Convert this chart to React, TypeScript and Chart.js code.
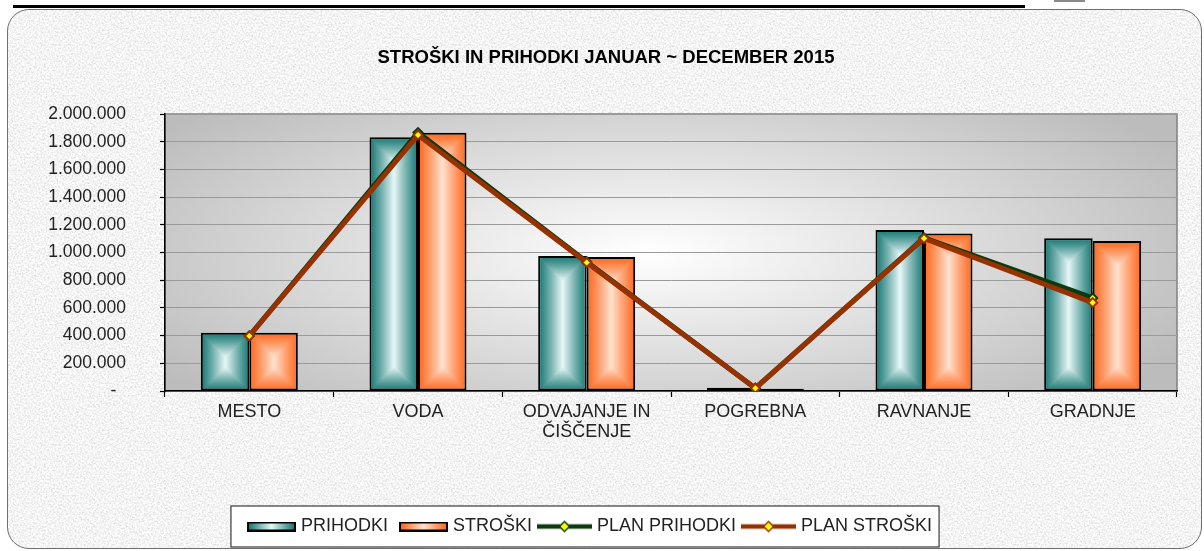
import React, { useEffect, useRef } from 'react';
import { Chart, registerables } from 'chart.js';

Chart.register(...registerables);

// ---------- data ----------
const CATEGORIES: (string | string[])[] = ['MESTO', 'VODA', ['ODVAJANJE IN', 'ČIŠČENJE'], 'POGREBNA', 'RAVNANJE', 'GRADNJE'];
const PRIHODKI = [421000, 1832000, 975000, 24000, 1162000, 1102000];
const STROSKI = [421000, 1865000, 967000, 17000, 1138000, 1083000];
const PLAN_PRIHODKI = [398000, 1866000, 934000, 20000, 1106000, 672000];
const PLAN_STROSKI = [397000, 1848000, 928000, 20000, 1102000, 638000];
const SERIES_NAMES = ['PRIHODKI', 'STROŠKI', 'PLAN PRIHODKI', 'PLAN STROŠKI'];
const TITLE = 'STROŠKI IN PRIHODKI JANUAR ~ DECEMBER 2015';
const Y_MIN = 0;
const Y_MAX = 2000000;
const Y_STEP = 200000;

// ---------- style ----------
const FONT = "'Liberation Sans', Arial, Helvetica, sans-serif";
const CAT_PCT = 0.575;
const TEAL_DARK = [24, 120, 116];
const TEAL_LIGHT = [232, 247, 247];
const ORANGE_DARK = [255, 104, 30];
const ORANGE_LIGHT = [255, 226, 208];
const GREEN_LINE = '#0c3a10';
const BROWN_LINE = '#983100';
const MARKER_FILL = '#ffff00';
const LEGEND_IMG_W = 55;

const GRANITE =
  "url(\"data:image/svg+xml;utf8,<svg xmlns='http://www.w3.org/2000/svg' width='400' height='400'><filter id='n'><feTurbulence type='fractalNoise' baseFrequency='0.55' numOctaves='3' seed='7'/><feColorMatrix type='matrix' values='0.55 0 0 0 0.63  0.55 0 0 0 0.63  0.55 0 0 0 0.63  0 0 0 0 1'/></filter><rect width='400' height='400' filter='url(%23n)'/></svg>\")";

const fmtTick = (v: number) =>
  v === 0 ? '-  ' : String(Math.round(v)).replace(/\B(?=(\d{3})+(?!\d))/g, '.');

function boxGradient(w: number, h: number, dark: number[], light: number[]): HTMLCanvasElement {
  const W = Math.max(1, Math.ceil(w));
  const H = Math.max(1, Math.ceil(h));
  const c = document.createElement('canvas');
  c.width = W;
  c.height = H;
  const g = c.getContext('2d')!;
  const img = g.createImageData(W, H);
  const half = W / 2;
  for (let y = 0; y < H; y++) {
    for (let x = 0; x < W; x++) {
      const d = Math.min(x + 0.5, W - x - 0.5, y + 0.5, H - y - 0.5) / half;
      const k = Math.pow(Math.min(1, Math.max(0, d)), 1.15);
      const p = (y * W + x) * 4;
      img.data[p] = dark[0] + (light[0] - dark[0]) * k;
      img.data[p + 1] = dark[1] + (light[1] - dark[1]) * k;
      img.data[p + 2] = dark[2] + (light[2] - dark[2]) * k;
      img.data[p + 3] = 255;
    }
  }
  g.putImageData(img, 0, 0);
  return c;
}

function makeBarFill(dark: number[], light: number[], fallback: string) {
  return (ctx: any) => {
    const chart = ctx.chart;
    const area = chart.chartArea;
    if (!area || ctx.type !== 'data' || !chart.scales.x || !chart.scales.y) return fallback;
    const xs = chart.scales.x;
    const ys = chart.scales.y;
    const i = ctx.dataIndex;
    const cw = (area.right - area.left) / CATEGORIES.length;
    const size = (cw * CAT_PCT) / 2;
    const cx = xs.getPixelForValue(i);
    const x0 = ctx.datasetIndex === 0 ? cx - size : cx;
    const top = ys.getPixelForValue(ctx.raw);
    const base = ys.getPixelForValue(0);
    const cnv = boxGradient(size, Math.max(1, base - top), dark, light);
    const pat = chart.ctx.createPattern(cnv, 'no-repeat');
    if (!pat) return fallback;
    pat.setTransform(new DOMMatrix().translateSelf(x0, top));
    return pat;
  };
}

function legendBarImage(dark: number[], light: number[]): HTMLCanvasElement {
  const c = document.createElement('canvas');
  c.width = LEGEND_IMG_W;
  c.height = 10;
  const g = c.getContext('2d')!;
  const x0 = LEGEND_IMG_W - 49;
  g.fillStyle = '#000';
  g.fillRect(x0, 0, 49, 10);
  const lg = g.createLinearGradient(x0 + 2, 0, x0 + 47, 0);
  const d = `rgb(${dark.join(',')})`;
  const l = `rgb(${light.join(',')})`;
  lg.addColorStop(0, d);
  lg.addColorStop(0.5, l);
  lg.addColorStop(1, d);
  g.fillStyle = lg;
  g.fillRect(x0 + 2, 2, 45, 6);
  return c;
}

function legendLineImage(color: string): HTMLCanvasElement {
  const c = document.createElement('canvas');
  c.width = LEGEND_IMG_W;
  c.height = 14;
  const g = c.getContext('2d')!;
  const mid = LEGEND_IMG_W / 2;
  g.strokeStyle = color;
  g.lineWidth = 4.5;
  g.beginPath();
  g.moveTo(0, 7);
  g.lineTo(LEGEND_IMG_W, 7);
  g.stroke();
  g.beginPath();
  g.moveTo(mid, 2);
  g.lineTo(mid + 5, 7);
  g.lineTo(mid, 12);
  g.lineTo(mid - 5, 7);
  g.closePath();
  g.fillStyle = MARKER_FILL;
  g.fill();
  g.lineWidth = 1.5;
  g.stroke();
  return c;
}

const backdropPlugin = {
  id: 'backdrop',
  beforeDraw(chart: any) {
    const { ctx, chartArea: a } = chart;
    if (!a) return;
    const w = a.right - a.left;
    const h = a.bottom - a.top;
    ctx.save();
    ctx.beginPath();
    ctx.rect(a.left, a.top, w, h);
    ctx.clip();
    ctx.translate(a.left + w * 0.48, a.top + h * 0.5);
    const rx = w * 0.6;
    const ry = h * 0.75;
    ctx.scale(1, ry / rx);
    const g = ctx.createRadialGradient(0, 0, 0, 0, 0, rx);
    g.addColorStop(0, '#ffffff');
    g.addColorStop(1, '#bcbcbc');
    ctx.fillStyle = g;
    ctx.fillRect(-rx * 2, -rx * 2, rx * 4, rx * 4);
    ctx.restore();

    ctx.save();
    ctx.strokeStyle = '#808080';
    ctx.lineWidth = 1.5;
    ctx.strokeRect(a.left, a.top, w, h);
    ctx.restore();

    const legend = chart.legend;
    if (legend && legend.legendHitBoxes && legend.legendHitBoxes.length) {
      const hb = legend.legendHitBoxes;
      const last = hb[hb.length - 1];
      const left = hb[0].left - 14;
      const right = last.left + last.width + 7;
      const cy = hb[0].top + 9;
      ctx.save();
      ctx.fillStyle = '#ffffff';
      ctx.fillRect(left, cy - 20.5, right - left, 41);
      ctx.strokeStyle = '#3a3a3a';
      ctx.lineWidth = 1.2;
      ctx.strokeRect(left, cy - 20.5, right - left, 41);
      ctx.restore();
    }
  },
  afterDraw(chart: any) {
    const { ctx } = chart;
    ctx.save();
    ctx.font = `bold 18.5px ${FONT}`;
    ctx.fillStyle = '#000';
    ctx.textAlign = 'center';
    ctx.textBaseline = 'middle';
    ctx.fillText(TITLE, 606, 58);
    ctx.restore();
  },
};

export default function App() {
  const canvasRef = useRef<HTMLCanvasElement | null>(null);

  useEffect(() => {
    document.body.style.margin = '0';
    const canvas = canvasRef.current;
    if (!canvas) return;

    const legendImages = [
      legendBarImage(TEAL_DARK, TEAL_LIGHT),
      legendBarImage(ORANGE_DARK, ORANGE_LIGHT),
      legendLineImage(GREEN_LINE),
      legendLineImage(BROWN_LINE),
    ];

    const chart = new Chart(canvas, {
      type: 'bar',
      data: {
        labels: CATEGORIES as any,
        datasets: [
          {
            type: 'bar',
            label: SERIES_NAMES[0],
            data: PRIHODKI,
            backgroundColor: makeBarFill(TEAL_DARK, TEAL_LIGHT, 'rgb(24,120,116)') as any,
            borderColor: '#000',
            borderWidth: 2,
            borderSkipped: false,
            categoryPercentage: CAT_PCT,
            barPercentage: 1,
            order: 2,
          },
          {
            type: 'bar',
            label: SERIES_NAMES[1],
            data: STROSKI,
            backgroundColor: makeBarFill(ORANGE_DARK, ORANGE_LIGHT, 'rgb(255,104,30)') as any,
            borderColor: '#000',
            borderWidth: 2,
            borderSkipped: false,
            categoryPercentage: CAT_PCT,
            barPercentage: 1,
            order: 2,
          },
          {
            type: 'line',
            label: SERIES_NAMES[2],
            data: PLAN_PRIHODKI,
            borderColor: GREEN_LINE,
            borderWidth: 5,
            tension: 0,
            pointStyle: 'rectRot',
            pointRadius: 4.5,
            pointBackgroundColor: MARKER_FILL,
            pointBorderColor: GREEN_LINE,
            pointBorderWidth: 2,
            order: 1,
          },
          {
            type: 'line',
            label: SERIES_NAMES[3],
            data: PLAN_STROSKI,
            borderColor: BROWN_LINE,
            borderWidth: 5,
            tension: 0,
            pointStyle: 'rectRot',
            pointRadius: 4.5,
            pointBackgroundColor: MARKER_FILL,
            pointBorderColor: BROWN_LINE,
            pointBorderWidth: 2,
            order: 0,
          },
        ] as any,
      },
      options: {
        responsive: false,
        animation: false,
        layout: { padding: { left: 0, right: 27, top: 114, bottom: 5.5 } },
        plugins: {
          title: { display: false },
          legend: {
            position: 'bottom',
            labels: {
              usePointStyle: true,
              pointStyleWidth: LEGEND_IMG_W - 8,
              padding: 9,
              color: '#222',
              font: { family: FONT, size: 18 },
              generateLabels: (ch: any) =>
                ch.data.datasets.map((d: any, i: number) => ({
                  text: d.label,
                  pointStyle: legendImages[i],
                  datasetIndex: i,
                  hidden: false,
                  fillStyle: 'rgba(0,0,0,0)',
                  strokeStyle: 'rgba(0,0,0,0)',
                  lineWidth: 0,
                  fontColor: '#222',
                })),
            },
          },
          tooltip: { enabled: false },
        },
        scales: {
          x: {
            grid: {
              drawOnChartArea: false,
              tickLength: 6,
              tickColor: '#000',
              tickWidth: 1.2,
              offset: true,
            },
            border: { color: '#000', width: 1.5 },
            ticks: {
              color: '#222',
              font: { family: FONT, size: 18, lineHeight: 1.1 },
              padding: 5,
              maxRotation: 0,
              autoSkip: false,
            },
            afterFit: (s: any) => {
              s.height = 117.5;
            },
          },
          y: {
            min: Y_MIN,
            max: Y_MAX,
            ticks: {
              stepSize: Y_STEP,
              callback: (v: any) => fmtTick(Number(v)),
              color: '#222',
              font: { family: FONT, size: 17.5 },
              padding: 34,
            },
            grid: {
              color: '#9a9a9a',
              lineWidth: 1,
              tickLength: 5,
              tickColor: '#000',
              tickWidth: 1.2,
            },
            border: { color: '#000', width: 1.5 },
            afterFit: (s: any) => {
              s.width = 165;
            },
          },
        },
      } as any,
      plugins: [backdropPlugin],
    });

    return () => chart.destroy();
  }, []);

  return (
    <div style={{ position: 'relative', width: 1204, height: 551, overflow: 'hidden', background: '#fff' }}>
      <div style={{ position: 'absolute', left: 13, top: 5, width: 1012, height: 3, background: '#000' }} />
      <div style={{ position: 'absolute', left: 1054, top: 0, width: 31, height: 2, background: '#8a8a8a' }} />
      <div
        style={{
          position: 'absolute',
          left: 7,
          top: 9,
          width: 1195,
          height: 540,
          border: '1.5px solid #6e6e6e',
          borderRadius: 22,
          backgroundColor: '#e4e4e4',
          backgroundImage: GRANITE,
          boxSizing: 'border-box',
        }}
      />
      <canvas
        ref={canvasRef}
        width={1204}
        height={551}
        style={{ position: 'absolute', left: 0, top: 0, display: 'block' }}
      />
    </div>
  );
}
